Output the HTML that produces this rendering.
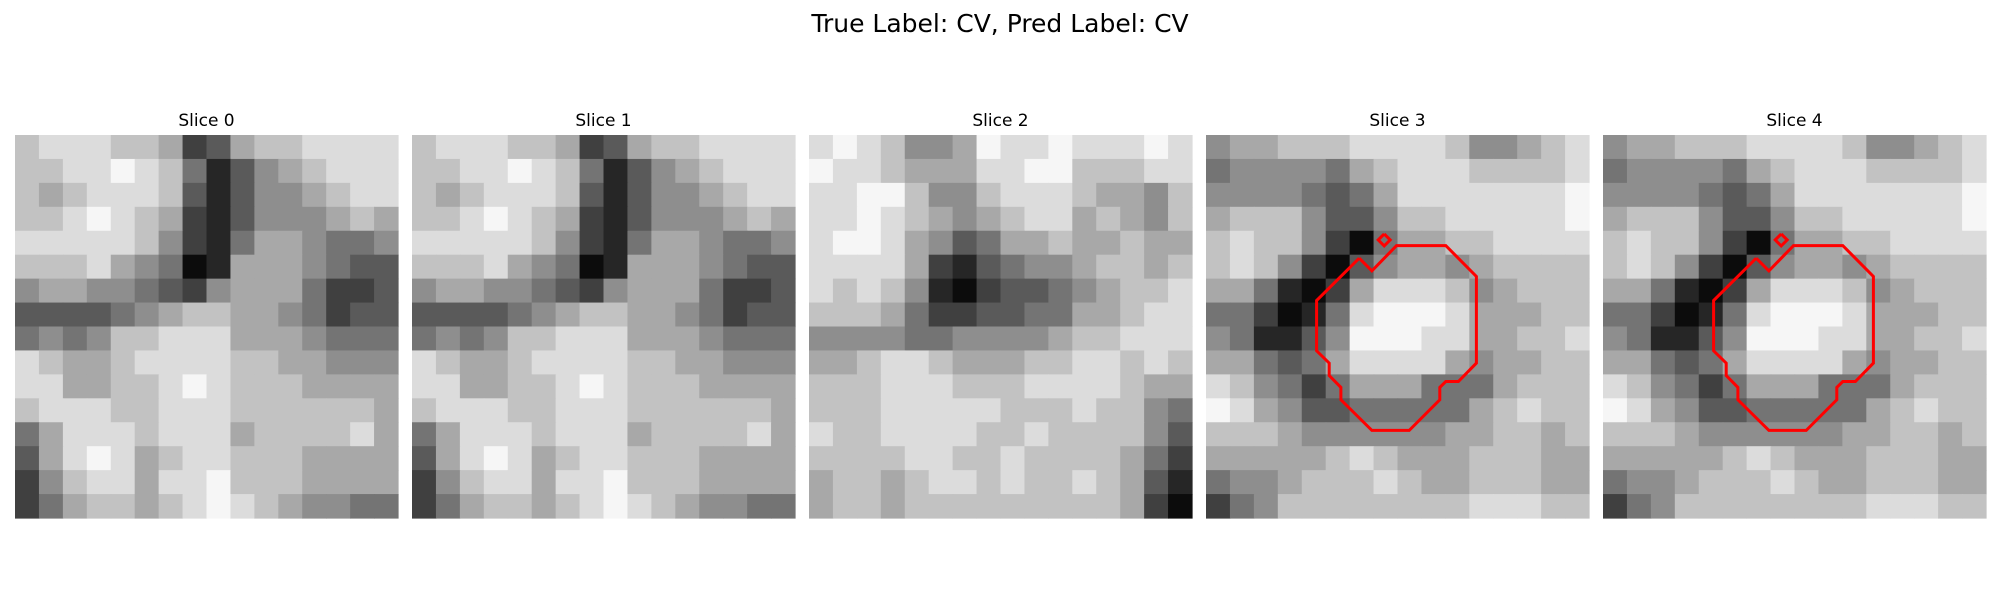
<!DOCTYPE html>
<html><head><meta charset="utf-8"><style>
html,body{margin:0;padding:0;background:#fff;width:2000px;height:600px;overflow:hidden;font-family:"DejaVu Sans","Liberation Sans",sans-serif}
svg{position:absolute;left:0;top:0}
</style></head><body>
<svg id="fig" width="2000" height="600" viewBox="0 0 2000 600">
<text x="1000" y="32" text-anchor="middle" font-size="25" fill="#000" font-family="DejaVu Sans, Liberation Sans, sans-serif">True Label: CV, Pred Label: CV</text>
</svg>
<script>
const sliceLabels = ["Slice 0","Slice 1","Slice 2","Slice 3","Slice 4"];
const sliceImageIndex = [0,0,1,2,2];
const sliceHasContour = [false,false,false,true,true];
const img0 = [
[7,8,8,8,7,7,6,2,3,6,7,7,8,8,8,8],
[7,7,8,8,9,8,7,4,1,3,5,6,7,8,8,8],
[7,6,7,8,8,8,7,3,1,3,5,5,6,7,8,8],
[7,7,8,9,8,7,6,2,1,3,5,5,5,6,7,6],
[8,8,8,8,8,7,5,2,1,4,6,6,5,4,4,5],
[7,7,7,8,6,5,4,0,1,6,6,6,5,4,3,3],
[5,6,6,5,5,4,3,2,5,6,6,6,4,2,2,3],
[3,3,3,3,4,5,6,7,7,6,6,5,4,2,3,3],
[4,5,4,5,7,7,8,8,8,6,6,6,5,4,4,4],
[8,7,6,6,7,8,8,8,8,7,7,6,6,5,5,5],
[8,8,6,6,7,7,8,9,8,7,7,7,6,6,6,6],
[7,8,8,8,7,7,8,8,8,7,7,7,7,7,7,6],
[4,6,8,8,8,7,8,8,8,6,7,7,7,7,8,6],
[3,6,8,9,8,6,7,8,8,7,7,7,6,6,6,6],
[2,5,7,8,8,6,8,8,9,7,7,7,6,6,6,6],
[2,4,6,7,7,6,7,8,9,8,7,6,5,5,4,4]];
const img1 = [
[8,9,8,7,5,5,6,9,8,8,9,8,8,8,9,8],
[9,8,8,7,6,6,6,8,8,9,9,7,7,7,8,8],
[8,8,9,9,7,5,5,7,8,8,8,7,6,6,5,7],
[8,8,9,8,7,6,5,6,7,8,8,6,7,6,5,7],
[8,9,9,8,6,5,3,4,6,6,7,6,6,7,6,6],
[8,8,8,8,6,2,1,3,4,5,5,6,7,7,6,7],
[8,7,8,7,5,1,0,2,3,3,4,5,6,7,7,8],
[7,7,7,6,4,2,2,3,3,4,4,6,6,7,8,8],
[5,5,5,5,4,4,5,5,5,5,6,7,7,8,8,8],
[6,6,7,8,8,7,6,6,6,7,7,8,8,7,8,7],
[7,7,7,8,8,8,7,7,7,8,8,8,8,7,6,6],
[7,7,7,8,8,8,8,8,7,7,7,8,7,7,5,4],
[8,7,7,8,8,8,8,7,7,8,7,7,7,7,5,3],
[7,7,7,7,8,8,7,7,8,7,7,7,7,6,4,2],
[6,7,7,6,7,8,8,7,8,7,7,8,7,6,3,1],
[6,7,7,6,7,7,7,7,7,7,7,7,7,6,2,0]];
const img2 = [
[5,6,6,7,7,7,8,8,8,8,7,5,5,6,7,8],
[4,5,5,5,5,4,6,7,8,8,8,7,7,7,7,8],
[5,5,5,5,4,3,4,6,8,8,8,8,8,8,8,9],
[6,7,7,7,5,3,3,5,7,7,8,8,8,8,8,9],
[7,8,7,7,5,2,0,4,6,6,7,7,8,8,8,8],
[7,8,7,5,2,0,3,5,6,6,5,6,7,7,7,7],
[6,6,4,1,0,2,6,8,8,8,7,5,6,7,7,7],
[4,4,2,0,1,4,8,9,9,9,8,6,6,6,7,7],
[5,4,1,1,3,5,9,9,9,8,8,6,6,7,7,8],
[6,6,4,3,4,6,8,8,8,8,6,5,6,6,7,7],
[8,7,5,4,2,4,6,6,6,4,4,4,6,7,7,7],
[9,8,6,5,3,3,4,4,4,4,4,6,7,8,7,7],
[7,7,7,6,5,5,5,5,5,5,6,6,7,7,6,7],
[6,6,6,6,6,7,8,7,6,6,6,7,7,7,6,6],
[4,5,5,6,7,7,7,8,7,6,6,7,7,7,6,6],
[2,4,5,7,7,7,7,7,7,7,7,8,8,8,7,7]];
const images = [img0,img1,img2];
const contourX = [460,498,572,720,812,812,758,720,702,702,610,498,405,405,370,370,332,332,460];
const contourY = [370,408,332,332,425,685,740,740,758,795,887,887,795,758,722,685,648,497,370];
const markerX = [535,553,535,517,535];
const markerY = [297,315,333,315,297];

const NS="http://www.w3.org/2000/svg";
const fig=document.getElementById('fig');
const panelLeft=[15,412,809,1206,1603], panelTop=135, panelSize=383;
function sx(p,v){return panelLeft[p]+v/1150*panelSize;}
function sy(v){return panelTop+v/1150*panelSize;}
function gray(v){const g=Math.round(12+v*26);return `rgb(${g},${g},${g})`;}
sliceLabels.forEach((lab,p)=>{
  const g=document.createElementNS(NS,'g');
  
  
  fig.appendChild(g);
  const t=document.createElementNS(NS,'text');
  
  
  t.setAttribute('x',panelLeft[p]+panelSize/2);t.setAttribute('y',126);
  t.setAttribute('text-anchor','middle');t.setAttribute('font-size','17');
  t.textContent=lab;g.appendChild(t);
  const im=images[sliceImageIndex[p]], n=im.length, c=panelSize/n;
  for(let r=0;r<n;r++)for(let k=0;k<n;k++){
    const rc=document.createElementNS(NS,'rect');
    
    
    rc.setAttribute('x',(panelLeft[p]+k*c).toFixed(2));rc.setAttribute('y',(panelTop+r*c).toFixed(2));
    rc.setAttribute('width',(c+0.6).toFixed(2));rc.setAttribute('height',(c+0.6).toFixed(2));
    rc.setAttribute('fill',gray(im[r][k]));g.appendChild(rc);
  }
  if(sliceHasContour[p]){
    const pl=document.createElementNS(NS,'polyline');
    
    
    pl.setAttribute('points',contourX.map((x,i)=>sx(p,x).toFixed(1)+','+sy(contourY[i]).toFixed(1)).join(' '));
    pl.setAttribute('fill','none');pl.setAttribute('stroke','#ff0000');pl.setAttribute('stroke-width','3');
    g.appendChild(pl);
    const mk=document.createElementNS(NS,'polyline');
    
    
    mk.setAttribute('points',markerX.map((x,i)=>sx(p,x).toFixed(1)+','+sy(markerY[i]).toFixed(1)).join(' '));
    mk.setAttribute('fill','none');mk.setAttribute('stroke','#ff0000');mk.setAttribute('stroke-width','3');
    g.appendChild(mk);
  }
});
</script>
</body></html>
